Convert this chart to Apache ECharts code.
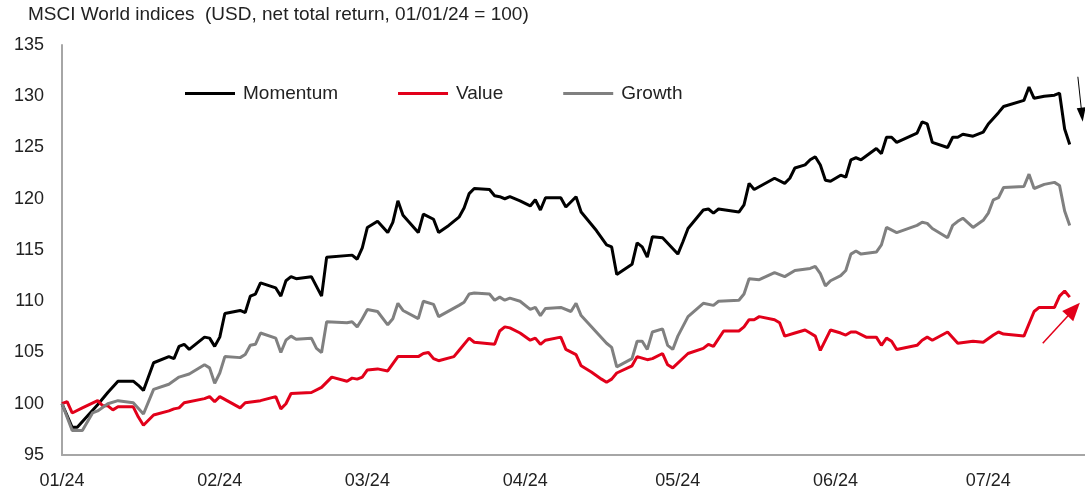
<!DOCTYPE html>
<html>
<head>
<meta charset="utf-8">
<script src="https://cdn.jsdelivr.net/npm/echarts@6/dist/echarts.min.js"></script>
<style>
  html, body { margin: 0; padding: 0; background: #fff; }
  #chart { width: 1085px; height: 497px; }
</style>
</head>
<body>
<div id="chart"></div>
<script>
// x = days since 01/01/24
var monthStarts = [0, 31, 60, 91, 121, 152, 182];
var monthLabels = ['01/24', '02/24', '03/24', '04/24', '05/24', '06/24', '07/24'];
var seriesNames = ['Momentum', 'Value', 'Growth'];

var momentum = [
  [0,100.0],[2,97.7],[3,97.7],[7,99.9],[9,101.1],[11,102.2],[14,102.2],[15,101.8],[16,101.3],[18,104.0],
  [21,104.6],[22,104.4],[23,105.6],[24,105.8],[25,105.3],[28,106.5],[29,106.4],[30,105.6],[31,106.5],[32,108.8],
  [35,109.1],[36,108.9],[37,110.5],[38,110.7],[39,111.8],[42,111.3],[43,110.5],[44,112.0],[45,112.4],[46,112.2],
  [49,112.4],[51,110.5],[52,114.3],[57,114.5],[58,114.1],[59,115.2],[60,117.2],[62,117.8],[64,116.7],[65,117.7],
  [66,119.8],[67,118.4],[70,116.7],[71,118.5],[73,118.0],[74,116.7],[76,117.4],[78,118.2],[79,119.1],[80,120.5],
  [81,121.0],[84,120.9],[85,120.3],[86,120.2],[87,120.0],[88,120.2],[90,119.8],[92,119.3],[93,119.9],[94,118.9],
  [95,120.1],[98,120.1],[99,119.2],[101,120.2],[102,118.7],[105,116.9],[107,115.5],[108,115.3],[109,112.6],[112,113.6],
  [113,115.7],[114,115.3],[115,114.3],[116,116.3],[118,116.2],[121,114.6],[122,115.8],[123,117.1],[126,118.9],[127,119.0],
  [128,118.6],[129,119.0],[133,118.7],[134,119.4],[135,121.5],[136,120.9],[140,122.0],[142,121.5],[143,122.0],[144,123.0],
  [146,123.3],[147,123.8],[148,124.1],[149,123.3],[150,121.8],[151,121.7],[153,122.3],[154,122.1],[155,123.8],[156,124.0],
  [157,123.8],[160,124.9],[161,124.4],[162,126.0],[163,126.0],[164,125.5],[168,126.4],[169,127.5],[170,127.3],[171,125.5],
  [174,125.0],[175,126.0],[176,126.0],[177,126.3],[179,126.1],[181,126.5],[182,127.3],[184,128.4],[185,129.0],[189,129.6],
  [190,130.9],[191,129.8],[193,130.0],[195,130.1],[196,130.3],[197,126.8],[198,125.3]
];

var value = [
  [0,100.0],[1,100.2],[2,99.1],[4,99.6],[7,100.3],[8,99.8],[9,99.8],[10,99.4],[11,99.7],[14,99.7],
  [15,98.7],[16,97.9],[18,98.9],[21,99.3],[22,99.5],[23,99.6],[24,100.1],[28,100.5],[29,100.7],[30,100.2],
  [31,100.7],[35,99.6],[36,100.1],[39,100.3],[42,100.7],[43,99.5],[44,100.0],[45,101.0],[49,101.1],[51,101.6],
  [53,102.6],[56,102.2],[57,102.5],[58,102.4],[59,102.6],[60,103.3],[62,103.4],[64,103.2],[66,104.6],[70,104.6],
  [71,104.9],[72,105.0],[73,104.4],[74,104.2],[77,104.6],[78,105.2],[80,106.4],[81,106.0],[85,105.8],[86,107.1],
  [87,107.5],[88,107.4],[90,106.9],[92,106.2],[93,106.4],[94,105.8],[95,106.2],[98,106.5],[99,105.3],[101,104.8],
  [102,103.7],[104,103.1],[106,102.4],[107,102.1],[108,102.4],[109,103.0],[112,103.7],[113,104.6],[115,104.3],[116,104.4],
  [118,104.9],[119,103.8],[120,103.5],[123,104.9],[126,105.4],[127,105.8],[128,105.6],[130,107.1],[133,107.1],[134,107.5],
  [135,108.2],[136,108.2],[137,108.5],[140,108.2],[141,107.9],[142,106.6],[144,106.9],[146,107.2],[147,106.9],[148,106.6],
  [149,105.2],[151,107.2],[153,106.9],[154,106.7],[155,107.0],[156,107.0],[158,106.5],[160,106.5],[161,105.7],[162,106.4],
  [163,106.1],[164,105.3],[168,105.7],[169,106.2],[170,106.5],[171,106.2],[174,107.0],[176,105.9],[179,106.1],[181,106.0],
  [183,106.7],[184,107.0],[185,106.8],[189,106.6],[191,109.0],[192,109.4],[195,109.4],[196,110.5],[197,111.0],[198,110.4]
];

var growth = [
  [0,100.0],[2,97.4],[4,97.4],[6,99.1],[7,99.3],[9,100.0],[11,100.3],[14,100.1],[16,99.0],[18,101.4],
  [21,101.9],[23,102.6],[25,102.9],[28,103.8],[29,103.5],[30,102.0],[31,103.0],[32,104.6],[35,104.5],[36,104.8],
  [37,105.7],[38,105.8],[39,106.9],[42,106.4],[43,105.0],[44,106.2],[45,106.6],[46,106.3],[49,106.4],[50,105.4],
  [51,105.0],[52,108.0],[56,107.9],[57,108.0],[58,107.5],[59,108.3],[60,109.2],[62,109.0],[64,107.7],[65,108.3],
  [66,109.8],[67,109.1],[70,108.3],[71,110.0],[73,109.7],[74,108.5],[78,109.6],[79,109.9],[80,110.7],[81,110.8],
  [84,110.7],[85,110.1],[86,110.4],[87,110.1],[88,110.3],[90,110.0],[92,109.2],[93,109.4],[94,108.6],[95,109.3],
  [98,109.4],[100,109.0],[101,109.8],[102,108.6],[107,105.9],[108,105.5],[109,103.6],[112,104.4],[113,106.1],[114,106.1],
  [115,105.3],[116,107.0],[118,107.3],[119,105.7],[120,105.3],[121,106.6],[123,108.5],[126,109.8],[128,109.6],[129,110.0],
  [133,110.1],[134,110.7],[135,112.2],[137,112.1],[140,112.8],[142,112.4],[144,113.0],[147,113.2],[148,113.4],[149,112.7],
  [150,111.5],[151,112.0],[153,112.5],[154,113.0],[155,114.6],[156,114.9],[157,114.6],[160,114.8],[161,115.5],[162,117.2],
  [164,116.7],[168,117.4],[169,117.7],[170,117.6],[171,117.1],[174,116.2],[175,117.4],[176,117.8],[177,118.1],[179,117.2],
  [181,117.9],[182,118.6],[183,119.9],[184,120.1],[185,121.1],[189,121.2],[190,122.4],[191,121.0],[193,121.4],[195,121.6],
  [196,121.3],[197,118.8],[198,117.4]
];

// arrow annotations (start, end) in data units
var momentumArrow = [[199.6, 131.9], [200.4, 128.2]];
var valueArrow = [[192.7, 105.9], [198.8, 109.2]];

var font = '"Liberation Sans", Arial, sans-serif';
var txt = '#222';
var axisGrey = '#a6a6a6';

var chart = echarts.init(document.getElementById('chart'));

function arrow(pts, color, width, size) {
  return {
    silent: true,
    animation: false,
    symbol: ['none', 'triangle'],
    symbolSize: size,
    label: { show: false },
    lineStyle: { color: color, width: width, type: 'solid' },
    data: [[{ coord: pts[0] }, { coord: pts[1] }]]
  };
}

var option = {
  animation: false,
  textStyle: { fontFamily: font },
  title: {
    text: 'MSCI World indices  (USD, net total return, 01/01/24 = 100)',
    left: 23,
    top: 0,
    textStyle: { fontSize: 19, fontWeight: 'normal', color: txt, fontFamily: font }
  },
  legend: {
    data: seriesNames,
    icon: 'rect',
    left: 180,
    top: 79,
    itemWidth: 50,
    itemHeight: 3,
    itemGap: 60,
    textStyle: { fontSize: 19, color: txt, fontFamily: font, padding: [0, 0, 0, 3] }
  },
  grid: { left: 62, right: 0, top: 45, bottom: 42 },
  xAxis: {
    type: 'value',
    min: 0,
    max: 201,
    axisLine: { lineStyle: { color: axisGrey, width: 2 } },
    axisTick: { show: false },
    splitLine: { show: false },
    axisLabel: {
      customValues: monthStarts,
      formatter: function (v) { return monthLabels[monthStarts.indexOf(v)]; },
      fontSize: 18,
      color: txt,
      margin: 17,
      fontFamily: font
    }
  },
  yAxis: {
    type: 'value',
    min: 95,
    max: 135,
    interval: 5,
    axisLine: { show: true, lineStyle: { color: axisGrey, width: 2 } },
    axisTick: { show: false },
    splitLine: { show: false },
    axisLabel: { fontSize: 18, color: txt, margin: 18, fontFamily: font }
  },
  series: [
    {
      name: 'Momentum', type: 'line', data: momentum, symbol: 'none',
      lineStyle: { color: '#000000', width: 3 }, itemStyle: { color: '#000000' },
      markLine: arrow(momentumArrow, '#000000', 1, [9, 14])
    },
    {
      name: 'Value', type: 'line', data: value, symbol: 'none',
      lineStyle: { color: '#e2001a', width: 3 }, itemStyle: { color: '#e2001a' },
      markLine: arrow(valueArrow, '#e2001a', 1.5, [15, 18])
    },
    {
      name: 'Growth', type: 'line', data: growth, symbol: 'none',
      lineStyle: { color: '#808080', width: 3 }, itemStyle: { color: '#808080' }
    }
  ]
};

chart.setOption(option);
</script>
</body>
</html>
